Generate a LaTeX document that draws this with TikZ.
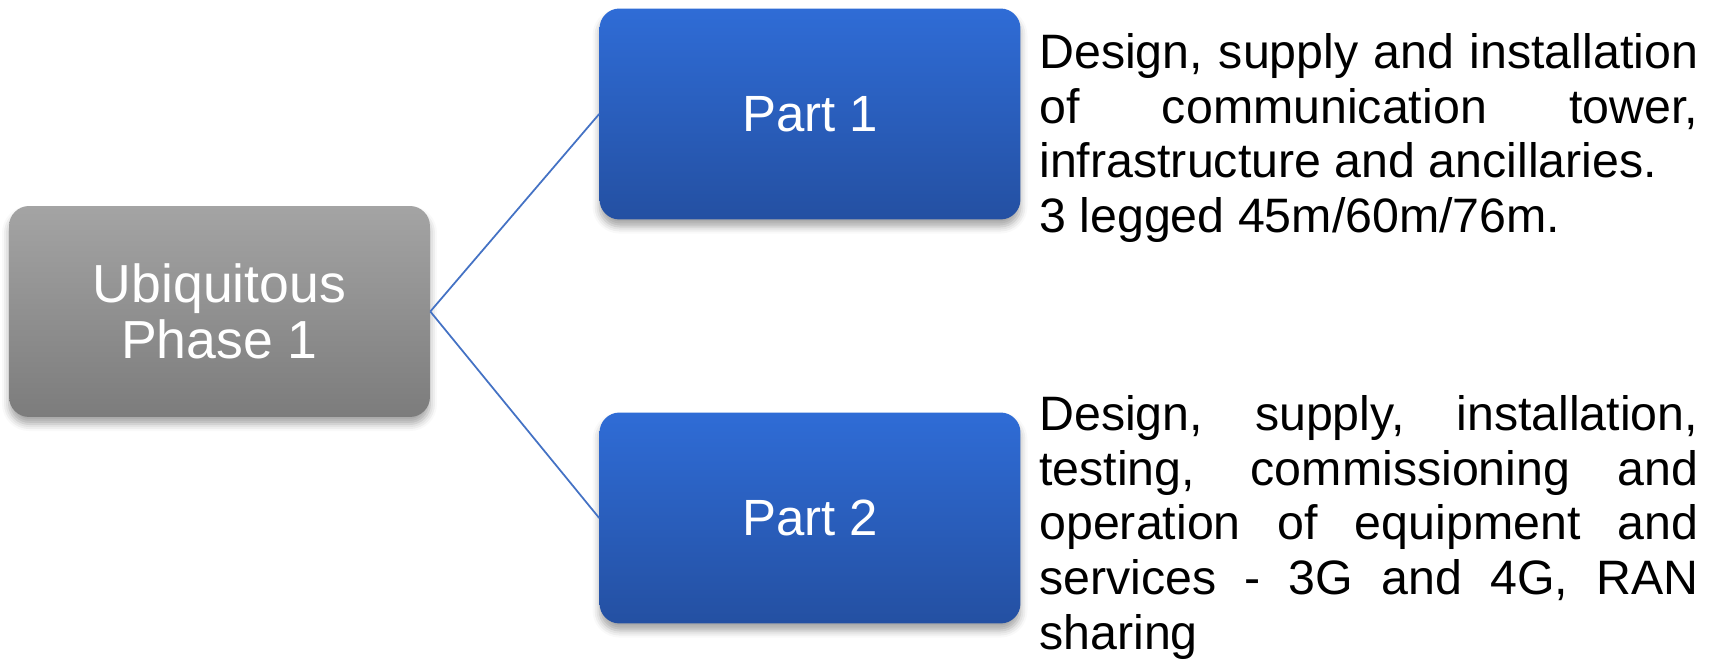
\documentclass[tikz,border=0pt]{standalone}
\usepackage{fontspec}
\setmainfont{Liberation Sans}
\usetikzlibrary{shadows.blur}
\definecolor{greytop}{RGB}{164,164,164}
\definecolor{greybot}{RGB}{124,124,124}
\definecolor{bluetop}{RGB}{47,108,214}
\definecolor{bluebot}{RGB}{36,80,162}
\definecolor{linkblue}{RGB}{68,114,196}

\begin{document}
\begin{tikzpicture}[x=0.02cm,y=-0.02cm,
    box/.style={rounded corners=0.4cm, minimum width=8.42cm, minimum height=4.22cm,
        text=white, align=center, font=\fontsize{29}{31}\selectfont,
        blur shadow={shadow xshift=0pt, shadow yshift=-4pt, shadow opacity=35, shadow blur radius=4pt}},
    graybox/.style={box, top color=greytop, bottom color=greybot, font=\fontsize{30.5}{31.5}\selectfont},
    bluebox/.style={box, top color=bluetop, bottom color=bluebot},
    link/.style={draw=linkblue, line width=1pt},
    desc/.style={anchor=north west, inner sep=0pt, text width=13.18cm, align=justify,
        font=\fontsize{27.5}{31.2}\selectfont}]
    \useasboundingbox (0,0) rectangle (1715,665);
    \node[graybox] (phase) at (219.5,311.5) {Ubiquitous\\Phase 1};
    \node[bluebox] (part1) at (810,114) {Part 1};
    \node[bluebox] (part2) at (810,518) {Part 2};
    \draw[link] (phase.east) -- (part1.west);
    \draw[link] (phase.east) -- (part2.west);
    \node[desc] (desc1) at (1039,33) {Design, supply and installation\linebreak
        of communication tower,\linebreak
        infrastructure and ancillaries.\newline
        3 legged 45m/60m/76m.};
    \node[desc] (desc2) at (1039,395) {Design, supply, installation,\linebreak
        testing, commissioning and\linebreak
        operation of equipment and\linebreak
        services - 3G and 4G, RAN\linebreak
        sharing};
\end{tikzpicture}
\end{document}
